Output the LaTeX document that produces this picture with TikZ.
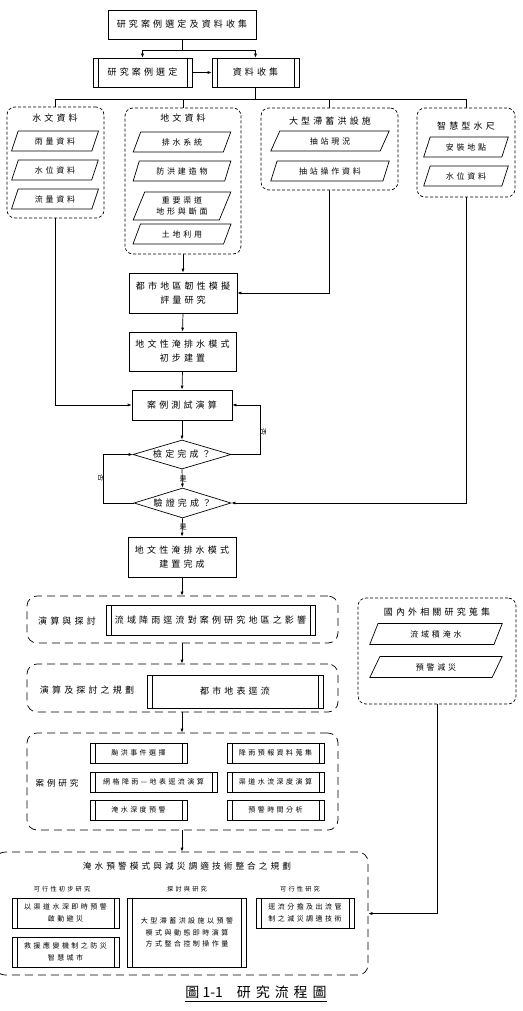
\documentclass[tikz,border=0pt]{standalone}
\usepackage{fontspec}
\setmainfont{Noto Sans CJK TC}
\newfontfamily\cjk[LetterSpace=35]{Noto Sans CJK TC}
\usetikzlibrary{shapes.geometric,arrows.meta}
\begin{document}
\begin{tikzpicture}[x=1pt,y=-1pt,line width=0.7pt,
  fa/.style={font=\cjk\fontsize{9}{14}\selectfont},
  fb/.style={font=\cjk\fontsize{8}{12}\selectfont},
  fc/.style={font=\cjk\fontsize{7}{11.5}\selectfont},
  box/.style={draw,rectangle,inner sep=1pt,align=center},
  pbox/.style={box,path picture={\draw[line width=0.6pt]
     ([xshift=5pt]path picture bounding box.north west) -- ([xshift=5pt]path picture bounding box.south west)
     ([xshift=-5pt]path picture bounding box.north east) -- ([xshift=-5pt]path picture bounding box.south east);}},
  para/.style={draw,trapezium,trapezium left angle=68,trapezium right angle=112,
     trapezium stretches=true,inner sep=1pt,align=center,fb},
  grp/.style={draw,rectangle,dash pattern=on 3pt off 2pt,rounded corners=8pt},
  grpb/.style={draw,rectangle,dash pattern=on 8pt off 5pt,rounded corners=10pt},
  dia/.style={draw,diamond,aspect=3.4,inner sep=0pt,fa},
  arr/.style={-{Latex[length=4pt,width=3pt]}},
  lab/.style={inner sep=1pt,fc}]
\useasboundingbox (0,0) rectangle (522,1011);

% top
\node[box,fa,minimum width=148pt,minimum height=29pt] (top) at (182,24.5) {研究案例選定及資料收集};
\node[pbox,fa,minimum width=99pt,minimum height=29pt] (sel) at (142.5,72.5) {研究案例選定};
\node[pbox,fa,minimum width=87pt,minimum height=29pt] (col) at (255.5,72.5) {資料收集};
\coordinate (sp) at (0,50);
\coordinate (busy) at (0,99);

% group 1
\node[grp,minimum width=97pt,minimum height=111pt] (g1) at (55.5,162.5) {};
\node[fa] (g1t) at (55,118) {水文資料};
\node[para,minimum width=87pt,minimum height=20pt] (g1a) at (55,141) {雨量資料};
\node[para,minimum width=87pt,minimum height=20pt] (g1b) at (55,170) {水位資料};
\node[para,minimum width=87pt,minimum height=20pt] (g1c) at (55,199) {流量資料};

% group 2
\node[grp,minimum width=116pt,minimum height=146pt] (g2) at (183,181) {};
\node[fa] (g2t) at (183,118) {地文資料};
\node[para,minimum width=98pt,minimum height=20pt] (g2a) at (182,142) {排水系統};
\node[para,minimum width=98pt,minimum height=20pt] (g2b) at (182,171) {防洪建造物};
\node[para,minimum width=98pt,minimum height=28pt,font=\cjk\fontsize{8}{11}\selectfont] (g2c) at (182,206) {重要渠道\\地形與斷面};
\node[para,minimum width=98pt,minimum height=20pt] (g2d) at (182,234) {土地利用};

% group 3
\node[grp,minimum width=137pt,minimum height=82pt] (g3) at (329.5,149) {};
\node[fa] (g3t) at (330,121) {大型滯蓄洪設施};
\node[para,minimum width=119pt,minimum height=20pt] (g3a) at (330,141) {抽站現況};
\node[para,minimum width=119pt,minimum height=20pt] (g3b) at (330,171) {抽站操作資料};

% group 4
\node[grp,minimum width=98pt,minimum height=89pt] (g4) at (466,152.5) {};
\node[fa] (g4t) at (466,126) {智慧型水尺};
\node[para,minimum width=85pt,minimum height=20pt] (g4a) at (466,147) {安裝地點};
\node[para,minimum width=85pt,minimum height=20pt] (g4b) at (466,176) {水位資料};

% main chain
\node[box,fa,minimum width=108pt,minimum height=40pt] (dushi) at (183,293) {都市地區韌性模擬\\評量研究};
\node[box,fa,minimum width=107pt,minimum height=39pt] (diwen) at (182.5,351.5) {地文性淹排水模式\\初步建置};
\node[box,fa,minimum width=100pt,minimum height=30pt] (case) at (182,405) {案例測試演算};
\node[dia,minimum width=98pt,minimum height=29pt] (d1) at (182,454.5) {檢定完成？};
\node[dia,minimum width=97pt,minimum height=30pt] (d2) at (182.5,503) {驗證完成？};
\node[box,fa,minimum width=108pt,minimum height=40pt] (done) at (182,557) {地文性淹排水模式\\建置完成};

% group 5
\node[grpb,minimum width=311pt,minimum height=47pt] (G5) at (182.5,619.5) {};
\node[fa] (G5t) at (67,621) {演算與探討};
\node[pbox,fa,minimum width=209pt,minimum height=30pt] (G5a) at (210.5,620.5) {流域降雨逕流對案例研究地區之影響};

% group 6
\node[grpb,minimum width=311pt,minimum height=48pt] (G6) at (182.5,688) {};
\node[fa] (G6t) at (87,690) {演算及探討之規劃};
\node[pbox,fa,minimum width=176pt,minimum height=33pt] (G6a) at (235,691.5) {都市地表逕流};

% group 7
\node[grpb,minimum width=311pt,minimum height=97pt] (G7) at (182.5,781.5) {};
\node[font=\cjk\fontsize{8.5}{12}\selectfont] (G7t) at (57,783) {案例研究};
\node[pbox,fc,minimum width=97pt,minimum height=20pt] (c1) at (138.5,753) {颱洪事件選擇};
\node[pbox,fc,minimum width=97pt,minimum height=20pt] (c2) at (275.5,753) {降雨預報資料蒐集};
\node[pbox,fc,minimum width=127pt,minimum height=20pt] (c3) at (153.5,782) {網格降雨—地表逕流演算};
\node[pbox,fc,minimum width=97pt,minimum height=20pt] (c4) at (275.5,782) {渠道水流深度演算};
\node[pbox,fc,minimum width=97pt,minimum height=20pt] (c5) at (138.5,810) {淹水深度預警};
\node[pbox,fc,minimum width=97pt,minimum height=20pt] (c6) at (275.5,810) {預警時間分析};

% group 8
\node[grpb,minimum width=373pt,minimum height=123pt] (G8) at (181.5,913.5) {};
\node[font=\cjk\fontsize{8.7}{12}\selectfont] (G8t) at (187,866) {淹水預警模式與減災調適技術整合之規劃};
\node[font=\cjk\fontsize{6.2}{9}\selectfont] (G8l1) at (62,889) {可行性初步研究};
\node[font=\cjk\fontsize{6.2}{9}\selectfont] (G8l2) at (187,889) {探討與研究};
\node[font=\cjk\fontsize{6.2}{9}\selectfont] (G8l3) at (300,889) {可行性研究};
\node[pbox,font=\cjk\fontsize{7}{12}\selectfont,minimum width=107pt,minimum height=30pt] (p1) at (65.5,913) {以渠道水深即時預警\\啟動避災};
\node[pbox,font=\cjk\fontsize{7}{12}\selectfont,minimum width=107pt,minimum height=30pt] (p2) at (65.5,952) {救援應變機制之防災\\智慧城市};
\node[pbox,font=\cjk\fontsize{7}{11.5}\selectfont,minimum width=119pt,minimum height=69pt] (p3) at (187,932.5) {大型滯蓄洪設施以預警\\模式與動態即時演算\\方式整合控制操作量};
\node[pbox,font=\cjk\fontsize{7}{12}\selectfont,minimum width=98pt,minimum height=30pt] (p4) at (305,913) {逕流分擔及出流管\\制之減災調適技術};

% right group
\node[grp,minimum width=158pt,minimum height=106pt] (R) at (437,651) {};
\node[fa] (Rt) at (437,612) {國內外相關研究蒐集};
\node[para,minimum width=133pt,minimum height=21pt] (Ra) at (436,634) {流域積淹水};
\node[para,minimum width=133pt,minimum height=21pt] (Rb) at (436,667) {預警減災};

% caption
\node[inner sep=0pt,font=\fontsize{14}{16}\selectfont] (cap) at (256,992) {圖 1-1\quad{\cjk 研究流程圖}};
\draw[line width=0.8pt] ([yshift=-3pt]cap.south west) -- ([yshift=-3pt]cap.south east);

% connectors
\draw (top.south) -- (top.south |- sp);
\draw (sel.north |- sp) -- (col.north |- sp);
\draw[arr] (sel.north |- sp) -- (sel.north);
\draw[arr] (col.north |- sp) -- (col.north);
\draw[arr] (sel.east) -- (col.west);
\draw (col.south) -- (col.south |- busy);
\draw (g1.north) -- (g1.north |- busy) -- (g4.north |- busy) -- (g4.north);
\draw (g2.north) -- (g2.north |- busy);
\draw (g3.north) -- (g3.north |- busy);

\draw[arr] (g2.south) -- (dushi.north);
\draw[arr] (g3.south) |- (dushi.east);
\draw[arr] (dushi.south) -- (diwen.north);
\draw[arr] (diwen.south) -- (case.north);
\draw[arr] (g1.south) |- (case.west);
\draw[arr] (case.south) -- (d1.north);
\coordinate (rx) at (260,0);
\coordinate (lx) at (103,0);
\draw[arr] (d1.east) -- (d1.east -| rx) |- (case.east);
\node[lab,rotate=-90] (no1) at (263,432) {否};
\draw[arr] (d1.south) -- (d2.north);
\node[lab] (yes1) at (183,479) {是};
\draw[arr] (d2.west) -- (d2.west -| lx) |- (d1.west);
\node[lab,rotate=-90] (no2) at (101,478) {否};
\draw[arr] (g4.south) |- (d2.east);
\draw[arr] (d2.south) -- (done.north);
\node[lab] (yes2) at (183,527) {是};
\draw[arr] (done.south) -- (done.south |- G5.north);
\draw[arr] (G5.south -| done.south) -- (done.south |- G6.north);
\draw[arr] (G6.south -| done.south) -- (done.south |- G7.north);
\draw[arr] (G7.south -| done.south) -- (done.south |- G8.north);
\draw[arr] (R.south) |- (G8.east);
\end{tikzpicture}
\end{document}
